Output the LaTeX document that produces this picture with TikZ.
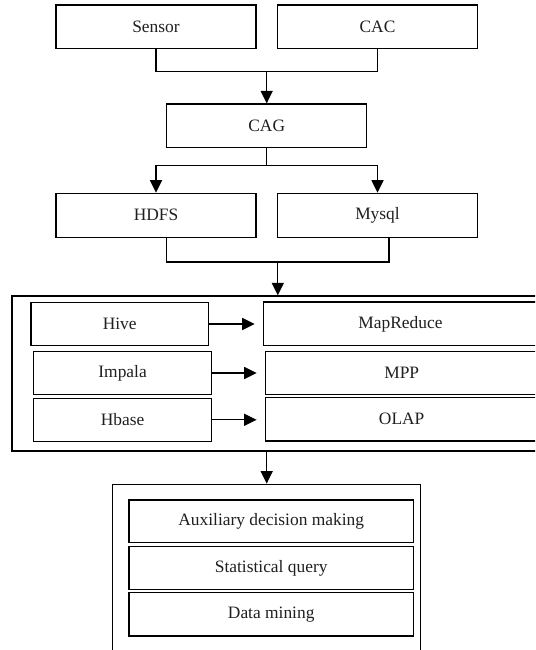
\documentclass[tikz,border=0pt]{standalone}
\usepackage{fontspec}
\setmainfont{Liberation Serif}
\usetikzlibrary{arrows.meta,calc}
\tikzset{
  box/.style={draw, line width=1.3pt, inner sep=0pt, font=\fontsize{17.4}{20}\selectfont, text=black!88},
  line/.style={line width=1.3pt},
  arr/.style={line width=1.3pt, -{Triangle[length=12.5pt,width=12pt]}},
}
\begin{document}
\begin{tikzpicture}[x=1pt,y=-1pt]
\useasboundingbox (0,0) rectangle (535,650);
\clip (0,0) rectangle (535,650);
% top
\node[box, minimum width=200pt, minimum height=43.7pt] (sensor) at (156,26.9) {Sensor};
\node[box, minimum width=200pt, minimum height=43.7pt] (cac) at (377.5,26.9) {CAC};
\node[box, minimum width=200pt, minimum height=43.3pt] (cag) at (266.7,125.7) {CAG};
\node[box, minimum width=200pt, minimum height=44pt] (hdfs) at (156,215.3) {HDFS};
\node[box, minimum width=200pt, minimum height=44pt] (mysql) at (377.5,215.3) {Mysql};
% middle container
\node[box, minimum width=548pt, minimum height=155pt] (outerA) at (286,373.5) {};
\node[box, minimum width=177.3pt, minimum height=42.8pt] (hive) at (119.7,324) {Hive};
\node[box, minimum width=178.2pt, minimum height=42.6pt] (impala) at (122.6,373) {Impala};
\node[box, minimum width=178.2pt, minimum height=43pt] (hbase) at (122.6,419.8) {Hbase};
\node[box, minimum width=274.4pt, minimum height=43.6pt] (mapreduce) at (400.5,323.9) {MapReduce};
\node[box, minimum width=272pt, minimum height=43pt] (mpp) at (401.7,373) {MPP};
\node[box, minimum width=272pt, minimum height=43.5pt] (olap) at (401.7,419.3) {OLAP};
% bottom container
\node[box, minimum width=308pt, minimum height=190pt] (outerB) at (266.7,579.3) {};
\node[box, minimum width=284.3pt, minimum height=42.7pt] (aux) at (271.2,521.3) {Auxiliary decision making};
\node[box, minimum width=284.3pt, minimum height=42.6pt] (stat) at (271.2,568) {Statistical query};
\node[box, minimum width=284.3pt, minimum height=43.3pt] (mining) at (271.2,614.3) {Data mining};
% connectors
\coordinate (j1) at (266.7,71.3);
\draw[line] (sensor.south) |- (j1) -| (cac.south);
\draw[arr] (j1) -- (cag.north);
\coordinate (j2) at (266.7,165.7);
\draw[line] (cag.south) -- (j2);
\draw[arr] (j2) -| (hdfs.north);
\draw[arr] (j2) -| (mysql.north);
\coordinate (j3) at (277.8,262);
\draw[line] ([xshift=10.7pt]hdfs.south) |- (j3) -| ([xshift=11.5pt]mysql.south);
\draw[arr] (j3) -- (j3 |- outerA.north);
\draw[arr, shorten >=8pt] (hive.east) -- (hive.east -| mapreduce.west);
\draw[arr, shorten >=8.4pt] (impala.east) -- (impala.east -| mpp.west);
\draw[arr, shorten >=8.4pt] (hbase.east) -- (hbase.east -| olap.west);
\draw[arr] (outerB.north |- outerA.south) -- (outerB.north);
\end{tikzpicture}
\end{document}
